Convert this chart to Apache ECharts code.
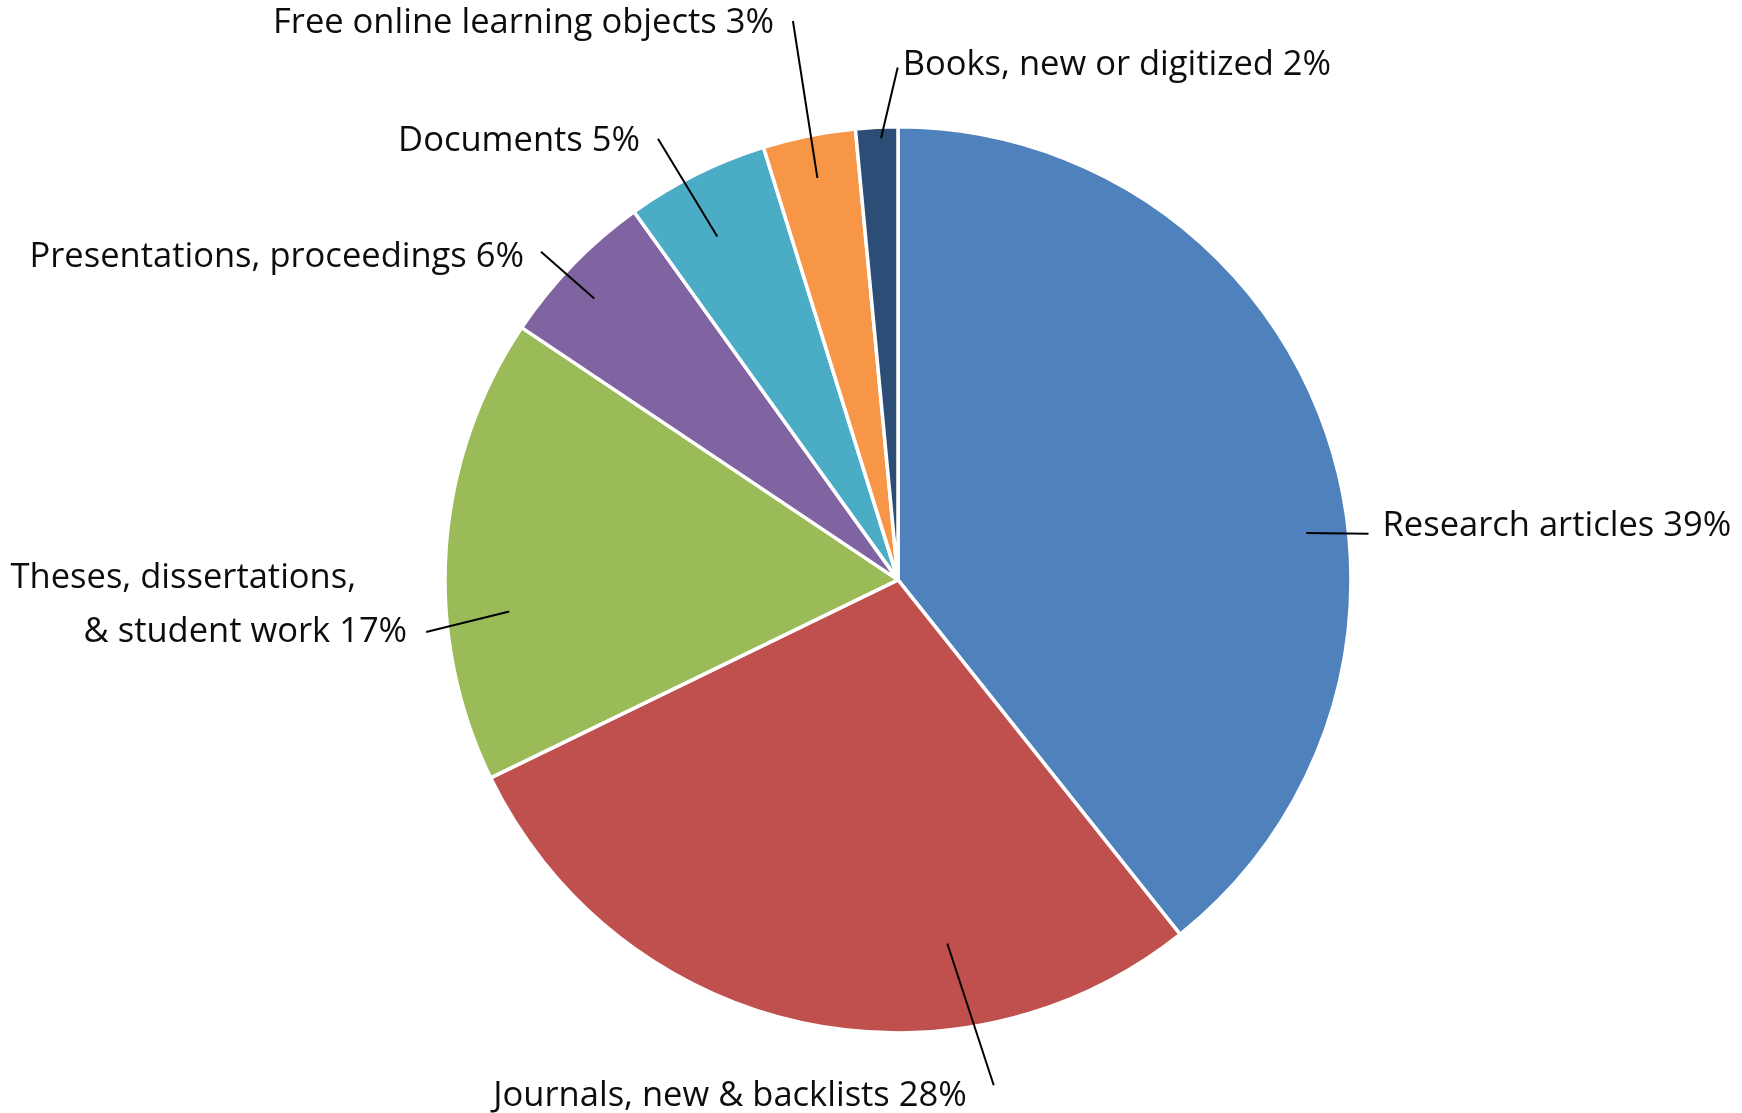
<!DOCTYPE html>
<html>
<head>
<meta charset="utf-8">
<script src="https://cdn.jsdelivr.net/npm/echarts@6/dist/echarts.min.js"></script>
<style>
  html, body { margin: 0; padding: 0; background: #ffffff; }
  #chart { width: 1742px; height: 1113px; }
</style>
</head>
<body>
<div id="chart"></div>
<script>
// ---- data ----
const categories = [
  'Research articles',
  'Journals, new & backlists',
  'Theses, dissertations,\n& student work',
  'Presentations, proceedings',
  'Documents',
  'Free online learning objects',
  'Books, new or digitized'
];
const shares = [39.3, 28.5, 16.6, 5.7, 5.1, 3.3, 1.5];
const shownPercents = [39, 28, 17, 6, 5, 3, 2];
const colors = ['#4F81BD', '#C0504D', '#9BBB59', '#8064A2', '#4BACC6', '#F79646', '#2C4D75'];

// ---- label styling ----
// default leader length (px) used by the pie label layout
const leaderLengths = [65, 104, 67, 78, 97, 162, 108];
// nudge of each label from the library's default place [dx, dy, align]
const labelShift = [[22, 102], [198, 17], [-1, 58], [-9, 16], [-17, 13], [4, 2], [17, 1, 'left']];
// leader line: [angle offset from slice middle (deg), inner radius (px), end dx, end dy]
const leaderSpec = [[12.7, 411, 0, 8], [-20.5, 367, 13, -11], [-8.6, 390, 5, 27], [-1.3, 414, 3, -6],
                    [-1.3, 388, 4, -2], [0, 410, 5, -2], [0.5, 442, 9, 2]];

const FONT = 'Open Sans';
const FS = 34.5;
const TEXT = '#0d0d0d';
const pieCenter = ['51.55%', '52.1%'];
const pieRadius = 453;
const anchorRadius = 408;

const chart = echarts.init(document.getElementById('chart'), null, { renderer: 'canvas' });

const mainData = categories.map((c, i) => ({
  name: c, value: shares[i], itemStyle: { color: colors[i] }
}));
const labelData = categories.map((c, i) => ({
  name: c, value: shares[i],
  labelLine: { length: leaderLengths[i], length2: 0 }
}));

function fmt(p) {
  const lines = p.name.split('\n');
  const pct = shownPercents[p.dataIndex] + '%';
  if (lines.length === 1) return '{t|' + lines[0] + ' ' + pct + '}';
  const head = lines.slice(0, -1).map(l => '{w|' + l + '}').join('\n');
  return head + '\n{t|' + lines[lines.length - 1] + ' ' + pct + '}';
}

chart.setOption({
  backgroundColor: '#ffffff',
  animation: false,
  series: [
    {
      type: 'pie',
      z: 2,
      center: pieCenter,
      radius: pieRadius,
      startAngle: 90,
      clockwise: true,
      silent: true,
      label: { show: false },
      labelLine: { show: false },
      itemStyle: { borderColor: '#ffffff', borderWidth: 3.5 },
      data: mainData
    },
    {
      type: 'pie',
      z: 5,
      center: pieCenter,
      radius: anchorRadius,
      startAngle: 90,
      clockwise: true,
      silent: true,
      avoidLabelOverlap: false,
      itemStyle: { color: 'rgba(0,0,0,0)', borderWidth: 0 },
      label: {
        show: true,
        position: 'outside',
        distanceToLabelLine: 2,
        padding: [0, 14],
        color: TEXT,
        fontFamily: FONT,
        fontSize: FS,
        lineHeight: 54,
        overflow: 'none',
        formatter: fmt,
        rich: {
          t: { fontFamily: FONT, fontSize: FS, lineHeight: 54, color: TEXT },
          w: { fontFamily: FONT, fontSize: FS, lineHeight: 54, color: TEXT, padding: [0, 51, 0, 0] }
        }
      },
      labelLine: {
        show: true,
        length2: 0,
        smooth: false,
        lineStyle: { color: '#000000', width: 2 }
      },
      labelLayout: function (p) {
        const i = p.dataIndex;
        const s = labelShift[i] || [0, 0];
        const r = p.labelRect;
        const ax = p.align === 'right' ? r.x + r.width : (p.align === 'center' ? r.x + r.width / 2 : r.x);
        const ay = r.y + r.height / 2;
        const nx = ax + s[0];
        const ny = ay + s[1];
        const out = { x: nx, y: ny, align: s[2] || p.align, verticalAlign: 'middle' };
        const pts = p.labelLinePoints;
        const spec = leaderSpec[i];
        if (pts && pts.length >= 2 && spec) {
          const p0 = pts[0], p1 = pts[1];
          let dx = p1[0] - p0[0], dy = p1[1] - p0[1];
          const L = Math.hypot(dx, dy) || 1;
          dx /= L; dy /= L;
          const cx = p0[0] - dx * anchorRadius;
          const cy = p0[1] - dy * anchorRadius;
          const a = spec[0] * Math.PI / 180;
          const rx = dx * Math.cos(a) - dy * Math.sin(a);
          const ry = dx * Math.sin(a) + dy * Math.cos(a);
          out.labelLinePoints = [
            [cx + rx * spec[1], cy + ry * spec[1]],
            [nx + spec[2], ny + spec[3]],
            [nx + spec[2], ny + spec[3]]
          ];
        }
        return out;
      },
      data: labelData
    }
  ]
});
</script>
</body>
</html>
